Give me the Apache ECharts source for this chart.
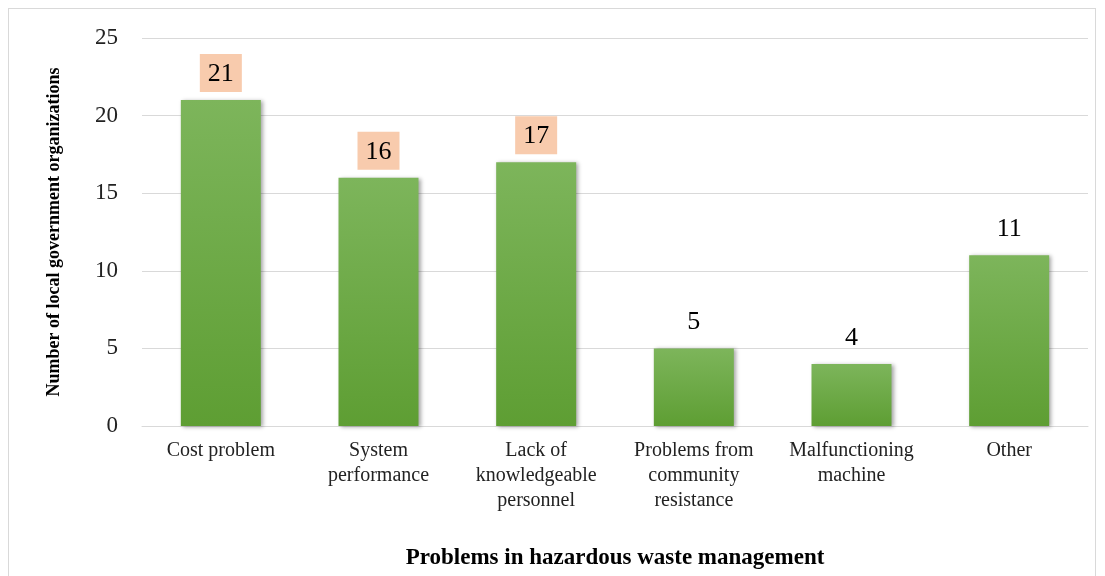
<!DOCTYPE html>
<html lang="en">
<head>
    <meta charset="UTF-8">
    <title>Problems in hazardous waste management</title>
    <script src="https://cdn.jsdelivr.net/npm/echarts@6/dist/echarts.min.js"></script>
    <style>
        html, body { margin: 0; padding: 0; background: #ffffff; }
        #frame { position: absolute; left: 8px; top: 8px; width: 1088px; height: 580px; border: 1px solid #d9d9d9; box-sizing: border-box; }
        #chart { width: 1105px; height: 576px; }
    </style>
</head>
<body>
<div id="frame"></div>
<div id="chart"></div>
<script>
    // data
    var categories = ['Cost problem', 'System\nperformance', 'Lack of\nknowledgeable\npersonnel',
        'Problems from\ncommunity\nresistance', 'Malfunctioning\nmachine', 'Other'];
    var counts = [21, 16, 17, 5, 4, 11];
    var highlighted = [true, true, true, false, false, false];

    var serif = '"Liberation Serif", "DejaVu Serif", serif';

    var barData = counts.map(function (v, i) {
        return {
            value: v,
            label: {
                backgroundColor: highlighted[i] ? '#F8CBAD' : 'transparent'
            }
        };
    });

    var myChart = echarts.init(document.getElementById('chart'));
    var option = {
        animation: false,
        grid: {
            left: 142,
            right: 17,
            top: 38,
            bottom: 150
        },
        xAxis: {
            type: 'category',
            data: categories,
            name: 'Problems in hazardous waste management',
            nameLocation: 'middle',
            nameGap: 121,
            nameTextStyle: {
                fontFamily: serif,
                fontWeight: 'bold',
                fontSize: 23,
                color: '#000'
            },
            axisTick: { show: false },
            axisLine: { lineStyle: { color: '#d9d9d9', width: 1 } },
            axisLabel: {
                fontFamily: serif,
                fontSize: 20,
                color: '#222',
                lineHeight: 25,
                margin: 12,
                interval: 0
            }
        },
        yAxis: {
            type: 'value',
            min: 0,
            max: 25,
            interval: 5,
            name: 'Number of local government organizations',
            nameLocation: 'middle',
            nameGap: 79,
            nameTextStyle: {
                fontFamily: serif,
                fontWeight: 'bold',
                fontSize: 18,
                color: '#000'
            },
            axisLabel: {
                fontFamily: serif,
                fontSize: 23,
                color: '#222',
                margin: 24
            },
            splitLine: { lineStyle: { color: '#d9d9d9', width: 1 } }
        },
        series: [{
            type: 'bar',
            data: barData,
            barWidth: 80,
            itemStyle: {
                color: new echarts.graphic.LinearGradient(0, 0, 0, 1, [
                    { offset: 0, color: '#7DB55B' },
                    { offset: 1, color: '#5E9E33' }
                ]),
                shadowColor: 'rgba(0,0,0,0.35)',
                shadowBlur: 4,
                shadowOffsetX: 2,
                shadowOffsetY: 1
            },
            label: {
                show: true,
                position: 'top',
                distance: 8,
                fontFamily: serif,
                fontSize: 26,
                color: '#000',
                padding: [7, 8, 5, 8]
            }
        }]
    };
    myChart.setOption(option);
</script>
</body>
</html>
